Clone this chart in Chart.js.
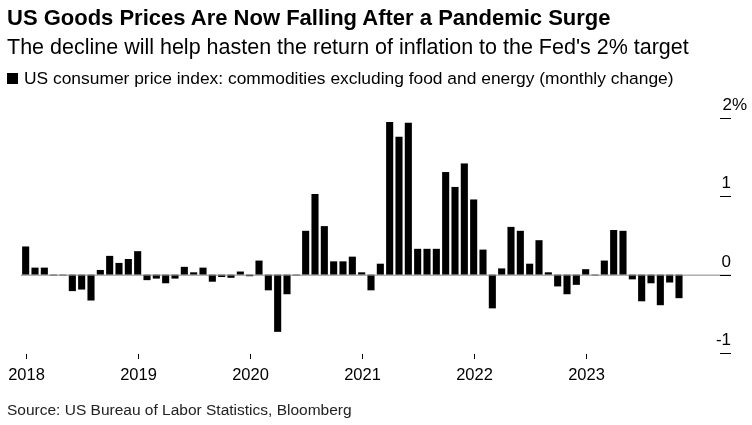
<!DOCTYPE html>
<html>
<head>
<meta charset="utf-8">
<script src="https://cdn.jsdelivr.net/npm/chart.js@4/dist/chart.umd.min.js"></script>
<style>
  body { margin: 0; background: #fff; font-family: "Liberation Sans", Arial, sans-serif; }
  #wrap { position: relative; width: 752px; height: 425px; }
  .t { position: absolute; left: 7px; white-space: nowrap; color: #000; }
  #title { top: 5px; font-size: 22px; font-weight: bold; }
  #sub { top: 35px; font-size: 21.5px; }
  #leg { top: 68px; font-size: 17.4px; }
  #leg span { display: inline-block; width: 11px; height: 11px; background: #000; margin-right: 6px; }
  #src { top: 401px; font-size: 15.5px; color: #222; }
  canvas { position: absolute; left: 0; top: 0; }
</style>
</head>
<body>
<div id="wrap">
  <canvas id="c" width="752" height="425"></canvas>
  <div class="t" id="title">US Goods Prices Are Now Falling After a Pandemic Surge</div>
  <div class="t" id="sub">The decline will help hasten the return of inflation to the Fed's 2% target</div>
  <div class="t" id="leg"><span></span>US consumer price index: commodities excluding food and energy (monthly change)</div>
  <div class="t" id="src">Source: US Bureau of Labor Statistics, Bloomberg</div>
</div>
<script>
// monthly change, Jan 2018 .. Nov 2023
var values = [
  0.36, 0.09, 0.09, -0.01, -0.01, -0.21, -0.19, -0.33, 0.06, 0.24, 0.15, 0.20,
  0.30, -0.07, -0.05, -0.11, -0.05, 0.10, 0.03, 0.09, -0.09, -0.03, -0.04, 0.04,
  -0.02, 0.18, -0.20, -0.73, -0.25, -0.01, 0.56, 1.03, 0.62, 0.17, 0.17, 0.23,
  0.03, -0.20, 0.14, 1.95, 1.76, 1.94, 0.33, 0.33, 0.33, 1.31, 1.12, 1.42,
  0.96, 0.32, -0.43, 0.08, 0.61, 0.56, 0.14, 0.44, 0.03, -0.15, -0.25, -0.13,
  0.07, -0.01, 0.18, 0.57, 0.56, -0.06, -0.34, -0.11, -0.39, -0.10, -0.30
];
var yearLabels = ["2018", "2019", "2020", "2021", "2022", "2023"];
var yTicks = [2, 1, 0, -1];

var labels = [];
var data = [];
for (var i = 0; i < 75; i++) {
  labels.push(String(2018 + Math.floor(i / 12)) + "-" + (i % 12 + 1));
  data.push(i < values.length ? values[i] : null);
}

var axisPlugin = {
  id: 'axisPlugin',
  afterDraw: function(chart) {
    var ctx = chart.ctx, x = chart.scales.x, y = chart.scales.y, a = chart.chartArea;
    ctx.save();
    // zero line
    ctx.strokeStyle = '#888';
    ctx.lineWidth = 1;
    ctx.beginPath();
    ctx.moveTo(a.left, y.getPixelForValue(0) + 0.5);
    ctx.lineTo(a.right + 10, y.getPixelForValue(0) + 0.5);
    ctx.stroke();
    // right axis
    ctx.fillStyle = '#000';
    ctx.strokeStyle = '#000';
    ctx.font = '17px "Liberation Sans", Arial, sans-serif';
    ctx.textAlign = 'right';
    ctx.textBaseline = 'bottom';
    yTicks.forEach(function(v) {
      var py = Math.round(y.getPixelForValue(v)) + 0.5;
      ctx.beginPath();
      ctx.moveTo(720, py);
      ctx.lineTo(731, py);
      ctx.stroke();
      ctx.fillText(v === 2 ? '2%' : String(v), v === 2 ? 747 : 731, py - 5);
    });
    // x axis years
    ctx.font = '16.5px "Liberation Sans", Arial, sans-serif';
    ctx.textAlign = 'center';
    ctx.textBaseline = 'top';
    yearLabels.forEach(function(lbl, k) {
      var px = Math.round(x.getPixelForValue(k * 12)) + 0.5;
      ctx.beginPath();
      ctx.moveTo(px, 354);
      ctx.lineTo(px, 359);
      ctx.stroke();
      ctx.fillText(lbl, px, 367);
    });
    ctx.restore();
  }
};

new Chart(document.getElementById('c'), {
  type: 'bar',
  data: {
    labels: labels,
    datasets: [{
      data: data,
      backgroundColor: '#000',
      barPercentage: 0.76,
      categoryPercentage: 1.0
    }]
  },
  options: {
    responsive: false,
    animation: false,
    layout: { padding: { left: 21, right: 31, top: 118, bottom: 72 } },
    plugins: { legend: { display: false }, tooltip: { enabled: false } },
    scales: {
      x: { display: false },
      y: { display: false, min: -1, max: 2 }
    }
  },
  plugins: [axisPlugin]
});
</script>
</body>
</html>
